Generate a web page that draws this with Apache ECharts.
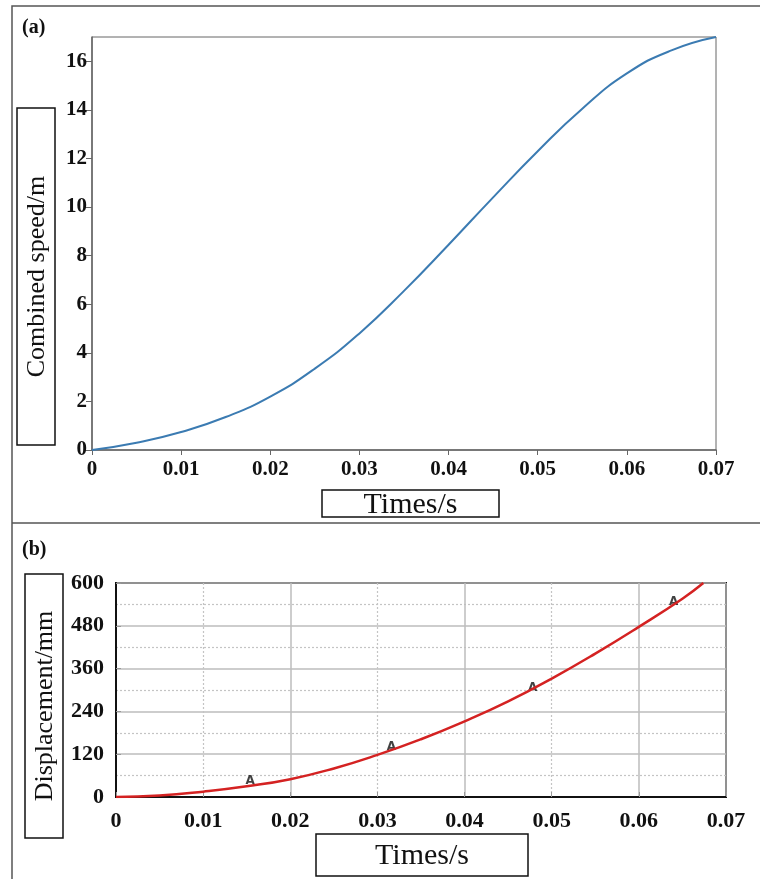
<!DOCTYPE html>
<html>
<head>
<meta charset="utf-8">
<script src="https://cdn.jsdelivr.net/npm/echarts@6/dist/echarts.min.js"></script>
<style>
html, body { margin: 0; padding: 0; background: #fff; }
#chart { width: 760px; height: 879px; }
</style>
</head>
<body>
<div id="chart"></div>
<script>
// (a) combined speed vs time
var timeA = [0, 0.005, 0.01, 0.015, 0.02, 0.025, 0.03, 0.035, 0.04, 0.045, 0.05, 0.055, 0.06, 0.065, 0.07]
var speedA = [0, 0.3, 0.74, 1.36, 2.2, 3.35, 4.8, 6.55, 8.45, 10.4, 12.3, 14.05, 15.5, 16.45, 17.0]

// (b) displacement vs time
var timeB = [0, 0.005, 0.01, 0.015, 0.02, 0.025, 0.03, 0.035, 0.04, 0.045, 0.05, 0.055, 0.06, 0.065, 0.0674]
var dispB = [0, 4, 15, 30, 50, 80, 118, 162, 212, 268, 332, 402, 477, 556, 600]

// "A" markers on curve (b)
var markT = [0.0154, 0.0316, 0.0478, 0.064]
var markV = [45, 140, 305, 547]

var serif = "'Liberation Serif', 'Times New Roman', serif"

function pairs(xs, ys) {
    return xs.map(function (x, i) { return [x, ys[i]] })
}

var dom = document.getElementById('chart')
var chart = echarts.init(dom, null, { renderer: 'canvas' })

var option = {
    animation: false,
    backgroundColor: '#fff',
    grid: [
        { left: 92, top: 37, width: 624, height: 413, show: true, borderColor: '#666', borderWidth: 1 },
        { left: 116, top: 583, width: 610, height: 214, show: true, borderColor: '#111', borderWidth: 2 }
    ],
    xAxis: [
        {
            gridIndex: 0, type: 'value', position: 'bottom', min: 0, max: 0.07, interval: 0.01,
            axisLine: { lineStyle: { color: '#666', width: 1.5 } },
            axisTick: { show: true, inside: false, length: 5, lineStyle: { color: '#666' } },
            axisLabel: { fontFamily: serif, fontWeight: 'bold', fontSize: 21, color: '#111', margin: 9 },
            splitLine: { show: false }
        },
        {
            // grid lines of (b): solid every 0.02, dotted in between
            gridIndex: 1, type: 'value', position: 'bottom', min: 0, max: 0.07, interval: 0.02,
            axisLine: { show: false },
            axisTick: { show: false },
            axisLabel: { show: false },
            splitLine: { show: true, lineStyle: { color: '#bdbdbd', width: 1.5 } },
            minorTick: { show: false, splitNumber: 2 },
            minorSplitLine: { show: true, lineStyle: { color: '#c4c4c4', type: [2, 2], width: 1.2 } }
        },
        {
            gridIndex: 1, type: 'value', position: 'bottom', offset: 0, min: 0, max: 0.07, interval: 0.01,
            axisLine: { lineStyle: { color: '#111', width: 2 } },
            axisTick: { show: true, inside: true, length: 5, lineStyle: { color: '#999' } },
            axisLabel: { fontFamily: serif, fontWeight: 'bold', fontSize: 22, color: '#111', margin: 13 },
            splitLine: { show: false }
        }
    ],
    yAxis: [
        {
            gridIndex: 0, type: 'value', min: 0, max: 17, interval: 2,
            axisLine: { show: true, lineStyle: { color: '#666', width: 1.5 } },
            axisTick: { show: true, inside: false, length: 6, lineStyle: { color: '#666' } },
            axisLabel: { fontFamily: serif, fontWeight: 'bold', fontSize: 21, color: '#111', margin: 5, showMaxLabel: false },
            splitLine: { show: false }
        },
        {
            gridIndex: 1, type: 'value', min: 0, max: 600, interval: 120,
            axisLine: { show: true, lineStyle: { color: '#111', width: 2 } },
            axisTick: { show: true, inside: true, length: 5, lineStyle: { color: '#999' } },
            axisLabel: { fontFamily: serif, fontWeight: 'bold', fontSize: 22, color: '#111', margin: 12 },
            splitLine: { show: true, lineStyle: { color: '#bdbdbd', width: 1.5 } },
            minorTick: { show: false, splitNumber: 2 },
            minorSplitLine: { show: true, lineStyle: { color: '#c4c4c4', type: [2, 2], width: 1.2 } }
        }
    ],
    series: [
        {
            type: 'line', xAxisIndex: 0, yAxisIndex: 0,
            data: pairs(timeA, speedA),
            smooth: true, showSymbol: false,
            lineStyle: { color: '#3b7bb2', width: 2 }
        },
        {
            type: 'line', xAxisIndex: 2, yAxisIndex: 1,
            data: pairs(timeB, dispB),
            smooth: true, showSymbol: false,
            lineStyle: { color: '#d42222', width: 2.5 }
        },
        {
            type: 'scatter', xAxisIndex: 2, yAxisIndex: 1,
            data: pairs(markT, markV),
            symbolSize: 1,
            itemStyle: { color: 'rgba(0,0,0,0)' },
            label: {
                show: true, position: 'inside', formatter: 'A',
                fontFamily: 'DejaVu Sans', fontSize: 12, fontWeight: 'bold', color: '#111'
            }
        }
    ],
    graphic: [
        // outer frame and panel separator
        { type: 'rect', shape: { x: 12, y: 6, width: 760, height: 900 }, style: { fill: 'none', stroke: '#555', lineWidth: 1.5 }, z: 0 },
        { type: 'line', shape: { x1: 12, y1: 523, x2: 760, y2: 523 }, style: { stroke: '#555', lineWidth: 1.5 } },
        // panel tags
        { type: 'text', left: 22, top: 18, style: { text: '(a)', font: 'bold 20px ' + serif, fill: '#111' } },
        { type: 'text', left: 22, top: 540, style: { text: '(b)', font: 'bold 20px ' + serif, fill: '#111' } },
        // boxed axis titles (a)
        { type: 'rect', shape: { x: 17, y: 108, width: 38, height: 337 }, style: { fill: '#fff', stroke: '#111', lineWidth: 1.5 } },
        { type: 'text', x: 37, y: 276.5, rotation: Math.PI / 2, style: { text: 'Combined speed/m', font: '26px ' + serif, fill: '#111', align: 'center', verticalAlign: 'middle' } },
        { type: 'rect', shape: { x: 322, y: 490, width: 177, height: 27 }, style: { fill: '#fff', stroke: '#111', lineWidth: 1.5 } },
        { type: 'text', x: 410.5, y: 505, style: { text: 'Times/s', font: '30px ' + serif, fill: '#111', align: 'center', verticalAlign: 'middle' } },
        // boxed axis titles (b)
        { type: 'rect', shape: { x: 25, y: 574, width: 38, height: 264 }, style: { fill: '#fff', stroke: '#111', lineWidth: 1.5 } },
        { type: 'text', x: 45, y: 706, rotation: Math.PI / 2, style: { text: 'Displacement/mm', font: '26px ' + serif, fill: '#111', align: 'center', verticalAlign: 'middle' } },
        { type: 'rect', shape: { x: 316, y: 834, width: 212, height: 42 }, style: { fill: '#fff', stroke: '#111', lineWidth: 1.5 } },
        { type: 'text', x: 422, y: 856, style: { text: 'Times/s', font: '30px ' + serif, fill: '#111', align: 'center', verticalAlign: 'middle' } }
    ]
}
chart.setOption(option)
</script>
</body>
</html>
